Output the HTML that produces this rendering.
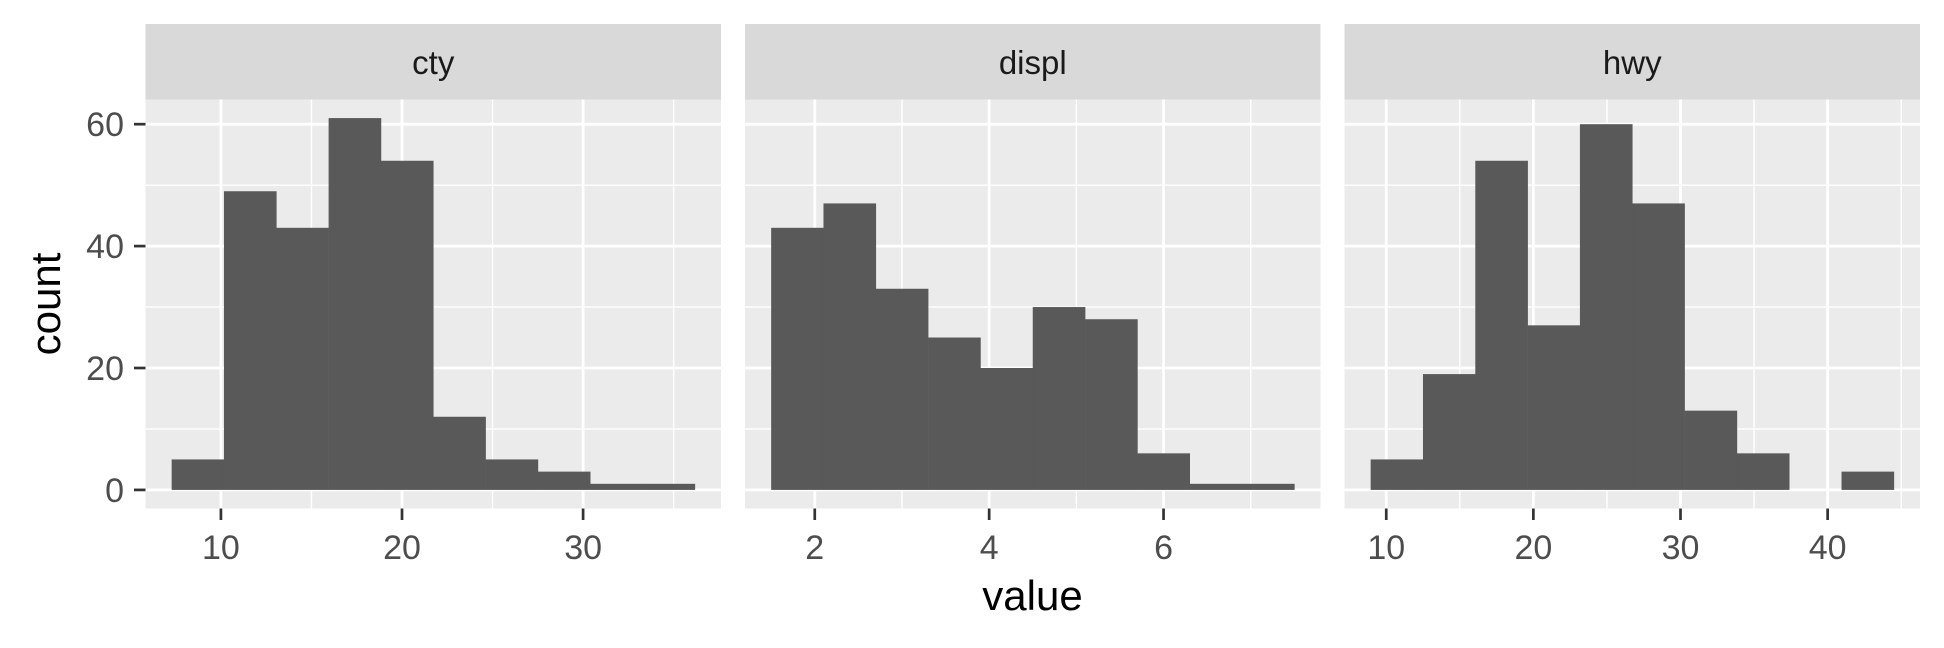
<!DOCTYPE html>
<html><head><meta charset="utf-8"><style>
html,body{margin:0;padding:0;background:#fff;}
svg{display:block;font-family:"Liberation Sans",sans-serif;}
</style></head><body>
<svg id="chart" width="1944" height="648" viewBox="0 0 1944 648" xmlns="http://www.w3.org/2000/svg">
<text x="1032.5" y="610" font-size="42" text-anchor="middle" fill="#000">value</text>
<text transform="translate(60,304) rotate(-90)" font-size="42" text-anchor="middle" fill="#000">count</text>
</svg>
<script>
const facetNames = ["cty", "displ", "hwy"];
const ctyCounts = [5, 49, 43, 61, 54, 12, 5, 3, 1, 1];
const displCounts = [43, 47, 33, 25, 20, 30, 28, 6, 1, 1];
const hwyCounts = [5, 19, 54, 27, 60, 47, 13, 6, 0, 3];
const ctyBinStart = 7.28, ctyBinWidth = 2.889;
const displBinStart = 1.5, displBinWidth = 0.6;
const hwyBinStart = 8.94, hwyBinWidth = 3.556;
const ctyTicks = [10, 20, 30];
const displTicks = [2, 4, 6];
const hwyTicks = [10, 20, 30, 40];
const yTicks = [0, 20, 40, 60];

const NS = "http://www.w3.org/2000/svg";
const svg = document.getElementById("chart");
function mk(tag, attrs, parent) {
  const e = document.createElementNS(NS, tag);
  for (const k in attrs) e.setAttribute(k, attrs[k]);
  (parent || svg).appendChild(e);
  return e;
}
const panelTop = 99.5, panelBottom = 508.5, stripTop = 24;
const panelW = 575.5;
const panelLefts = [145.5, 745, 1344.5];

const allCounts = [ctyCounts, displCounts, hwyCounts];
const starts = [ctyBinStart, displBinStart, hwyBinStart];
const widths = [ctyBinWidth, displBinWidth, hwyBinWidth];
const ticksList = [ctyTicks, displTicks, hwyTicks];

let yMax = 0;
allCounts.forEach(a => a.forEach(v => { if (v > yMax) yMax = v; }));
const yPad = yMax * 0.05;
const yLo = -yPad, yHi = yMax + yPad;
function yScale(v) { return panelBottom - (v - yLo) / (yHi - yLo) * (panelBottom - panelTop); }

yTicks.forEach(t => {
  const y = yScale(t);
  const tk = mk("line", {x1: 134, x2: 145.5, y1: y, y2: y, stroke: "#333", "stroke-width": 2.7});
  
  
  const lb = mk("text", {x: 124, y: y + 12, "font-size": 34, "text-anchor": "end", fill: "#4D4D4D"});
  lb.textContent = t;
  
  
});

facetNames.forEach((name, i) => {
  const L = panelLefts[i], R = L + panelW;
  const counts = allCounts[i], s = starts[i], w = widths[i];
  const dLo0 = s, dHi0 = s + counts.length * w;
  const pad = (dHi0 - dLo0) * 0.05;
  const xLo = dLo0 - pad, xHi = dHi0 + pad;
  const xScale = v => L + (v - xLo) / (xHi - xLo) * panelW;

  const g = mk("g", {});
  
  

  const strip = mk("rect", {x: L, y: stripTop, width: panelW, height: panelTop - stripTop, fill: "#D9D9D9"}, g);
  
  
  const st = mk("text", {x: L + panelW / 2, y: 74, "font-size": 33, "text-anchor": "middle", fill: "#1A1A1A"}, g);
  st.textContent = name;
  
  

  const bg = mk("rect", {x: L, y: panelTop, width: panelW, height: panelBottom - panelTop, fill: "#EBEBEB"}, g);
  
  

  for (let k = 0; k < yTicks.length - 1; k++) {
    const v = (yTicks[k] + yTicks[k + 1]) / 2;
    const y = yScale(v);
    const gl = mk("line", {x1: L, x2: R, y1: y, y2: y, stroke: "#fff", "stroke-width": 1.4}, g);
    
    
  }
  const tks = ticksList[i];
  const step = tks[1] - tks[0];
  for (let v = tks[0] - step / 2; v <= xHi; v += step) {
    if (v < xLo) continue;
    const x = xScale(v);
    const gl = mk("line", {x1: x, x2: x, y1: panelTop, y2: panelBottom, stroke: "#fff", "stroke-width": 1.4}, g);
    
    
  }
  yTicks.forEach(t => {
    const y = yScale(t);
    const gl = mk("line", {x1: L, x2: R, y1: y, y2: y, stroke: "#fff", "stroke-width": 2.8}, g);
    
    
  });
  tks.forEach(t => {
    const x = xScale(t);
    const gl = mk("line", {x1: x, x2: x, y1: panelTop, y2: panelBottom, stroke: "#fff", "stroke-width": 2.8}, g);
    
    
    const tk = mk("line", {x1: x, x2: x, y1: panelBottom, y2: panelBottom + 11.5, stroke: "#333", "stroke-width": 2.7}, g);
    
    
    const lb = mk("text", {x: x, y: 559, "font-size": 34, "text-anchor": "middle", fill: "#4D4D4D"}, g);
    lb.textContent = t;
    
    
  });

  counts.forEach((c, k) => {
    if (c <= 0) return;
    const x0 = xScale(s + k * w), x1 = xScale(s + (k + 1) * w);
    const y0 = yScale(c), yb = yScale(0);
    const b = mk("rect", {x: x0, y: y0, width: x1 - x0 + 0.3, height: yb - y0, fill: "#595959"}, g);
    
    
  });
});
</script>
</body></html>
